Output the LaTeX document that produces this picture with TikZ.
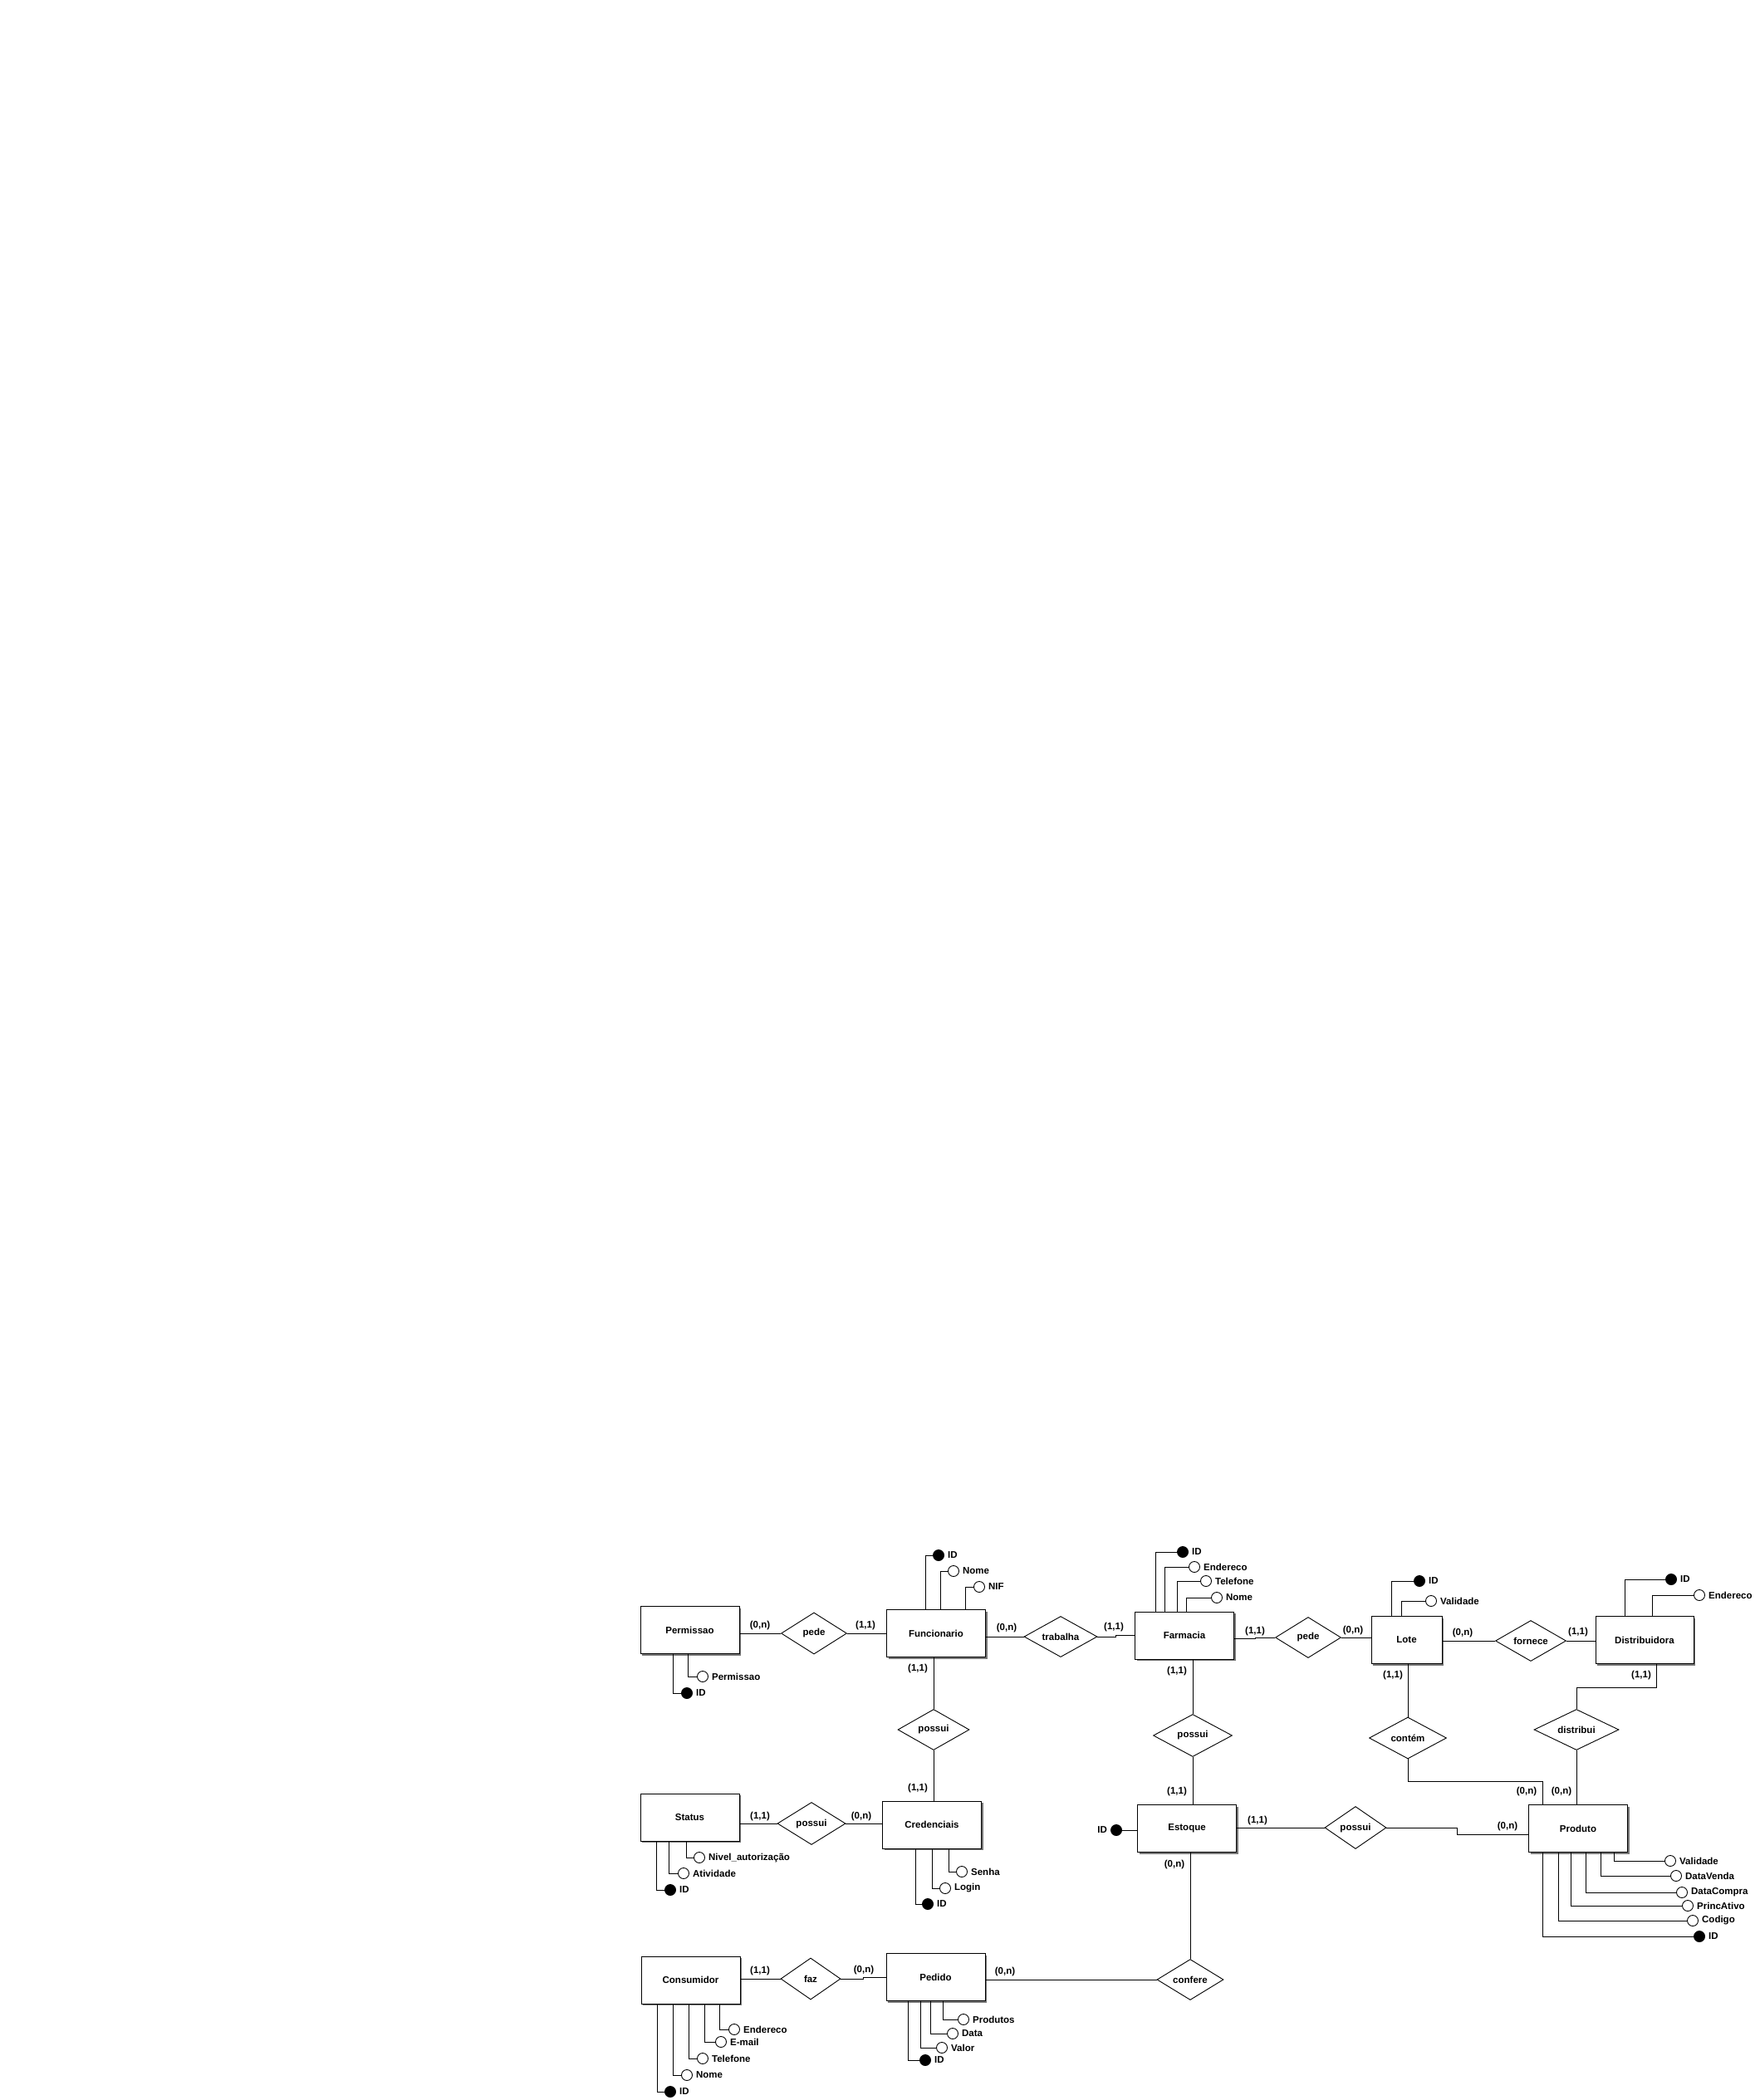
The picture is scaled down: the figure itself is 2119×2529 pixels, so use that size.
\documentclass[tikz,border=0pt]{standalone}
\usepackage{fontspec}
\setmainfont{Liberation Sans}
\usetikzlibrary{shapes.geometric,shadows,positioning,calc}
\definecolor{shadowgray}{RGB}{120,120,120}

\begin{document}
\begin{tikzpicture}[
    x=1pt, y=-1pt,
    every node/.style={font=\bfseries\fontsize{11.5}{13}\selectfont},
    entity/.style={rectangle, draw, fill=white, line width=1pt, minimum width=119pt, minimum height=57pt, inner sep=0pt, drop shadow={shadow xshift=2pt, shadow yshift=-2pt, fill=shadowgray, opacity=1}},
    relation/.style={diamond, draw, fill=white, line width=0.9pt, aspect=2, inner sep=0pt},
    attr/.style={circle, draw, fill=white, line width=0.9pt, minimum size=13pt, inner sep=0pt},
    keyattr/.style={attr, fill=black},
    attrlabel/.style={inner sep=0pt},
    card/.style={inner sep=0pt},
    conn/.style={-, line width=0.9pt}
]
    \useasboundingbox (0,0) rectangle (2119,2529);

    % Entities
    \node[entity] (perm) at (830.5,1963) {Permissao};
    \node[entity] (func) at (1127,1967) {Funcionario};
    \node[entity] (farm) at (1426,1969.5) {Farmacia};
    \node[entity, minimum width=85pt] (lote) at (1693.5,1975) {Lote};
    \node[entity, minimum width=118pt] (dist) at (1980,1975) {Distribuidora};
    \node[entity] (status) at (830.5,2188.5) {Status};
    \node[entity] (cred) at (1122,2197.5) {Credenciais};
    \node[entity] (est) at (1429,2202) {Estoque};
    \node[entity] (prod) at (1900,2202) {Produto};
    \node[entity] (cons) at (831.5,2384.5) {Consumidor};
    \node[entity] (ped) at (1126.5,2381) {Pedido};

    % Relationships
    \node[relation, minimum width=79pt, minimum height=50pt] (pede1) at (980,1967) {pede};
    \node[relation, minimum width=88pt, minimum height=49pt] (trab) at (1277,1971) {trabalha};
    \node[relation, minimum width=79pt, minimum height=49pt] (pede2) at (1575,1972) {pede};
    \node[relation, minimum width=85pt, minimum height=49pt] (forn) at (1843,1976) {fornece};
    \node[relation, minimum width=86pt, minimum height=49pt] (poss1) at (1124,2083) {possui};
    \node[relation, minimum width=95pt, minimum height=51pt] (poss2) at (1436,2090) {possui};
    \node[relation, minimum width=93pt, minimum height=50pt] (cont) at (1695,2093) {contém};
    \node[relation, minimum width=102pt, minimum height=49pt] (distr) at (1898,2083) {distribui};
    \node[relation, minimum width=82pt, minimum height=51pt] (poss3) at (977,2196) {possui};
    \node[relation, minimum width=74pt, minimum height=51pt] (poss4) at (1632,2201) {possui};
    \node[relation, minimum width=72pt, minimum height=50pt] (faz) at (976,2383) {faz};
    \node[relation, minimum width=80pt, minimum height=49pt] (conf) at (1433,2384) {confere};

    % Connections
    \draw[conn] (pede1.west -| perm.east) -- (pede1.west);
    \draw[conn] (pede1.east) -- (pede1.east -| func.west);
    \draw[conn] (trab.west -| func.east) -- (trab.west);
    \draw[conn] (trab.east) -- ++(22,0) |- (farm.west);
    \draw[conn] ([yshift=-4pt]farm.east) -- ++(25,0) |- (pede2.west);
    \draw[conn] (pede2.east) -- (pede2.east -| lote.west);
    \draw[conn] (forn.west -| lote.east) -- (forn.west);
    \draw[conn] (forn.east) -- (forn.east -| dist.west);
    \draw[conn] (poss1.north |- func.south) -- (poss1.north);
    \draw[conn] (poss1.south) -- (poss1.south |- cred.north);
    \draw[conn] (poss2.north |- farm.south) -- (poss2.north);
    \draw[conn] (poss2.south) -- (poss2.south |- est.north);
    \draw[conn] (cont.north |- lote.south) -- (cont.north);
    \draw[conn] (cont.south) -- ++(0,27) -| ([xshift=-43pt]prod.north);
    \draw[conn] ([xshift=14pt]dist.south) -- ++(0,28) -| (distr.north);
    \draw[conn] (distr.south) -- (distr.south |- prod.north);
    \draw[conn] (poss3.west -| status.east) -- (poss3.west);
    \draw[conn] (poss3.east) -- (poss3.east -| cred.west);
    \draw[conn] (poss4.west -| est.east) -- (poss4.west);
    \draw[conn] (poss4.east) -- ++(85,0) |- ([yshift=-7pt]prod.west);
    \draw[conn] (conf.north |- est.south) -- (conf.north);
    \draw[conn] (faz.west -| cons.east) -- (faz.west);
    \draw[conn] (faz.east) -- ++(27,0) |- (ped.west);
    \draw[conn] (conf.west -| ped.east) -- (conf.west);

    % Attributes
    \foreach \nm/\ent/\anc/\dx/\cx/\cy/\txt/\kind in {
        fid/func/north west/47/1130/1873/ID/keyattr,
        fnome/func/north west/65/1148/1892/Nome/attr,
        fnif/func/north west/95/1179/1911/NIF/attr,
        pperm/perm/south west/58/846/2019/Permissao/attr,
        pid/perm/south west/40/827/2039/ID/keyattr,
        aid/farm/north west/25/1424/1869/ID/keyattr,
        aend/farm/north west/36/1438/1887/Endereco/attr,
        atel/farm/north west/51/1452/1904/Telefone/attr,
        anome/farm/north west/62/1465/1924/Nome/attr,
        lid/lote/north west/25/1709/1904/ID/keyattr,
        lval/lote/north west/37/1723/1928/Validade/attr,
        did/dist/north west/36/2012/1902/ID/keyattr,
        dend/dist/north west/69/2046/1921/Endereco/attr,
        sniv/status/south west/56/842/2237/{Nivel\_autorização}/attr,
        sativ/status/south west/35/823/2256/Atividade/attr,
        sid/status/south west/20/807/2276/ID/keyattr,
        csen/cred/south west/80/1158/2254/Senha/attr,
        clog/cred/south west/60/1138/2274/Login/attr,
        cid/cred/south west/40/1117/2293/ID/keyattr,
        rval/prod/south west/103/2011/2241/Validade/attr,
        rdv/prod/south west/87/2018/2259/DataVenda/attr,
        rdc/prod/south west/69/2025/2279/DataCompra/attr,
        rpa/prod/south west/51/2032/2295/PrincAtivo/attr,
        rcod/prod/south west/36/2038/2313/Codigo/attr,
        rid/prod/south west/17/2046/2332/ID/keyattr,
        kend/cons/south west/95/884/2444/Endereco/attr,
        kmail/cons/south west/77/868/2459/E-mail/attr,
        ktel/cons/south west/58/846/2479/Telefone/attr,
        knome/cons/south west/39/827/2499/Nome/attr,
        kid/cons/south west/20/807/2519/ID/keyattr,
        eprod/ped/south west/69/1160/2432/Produtos/attr,
        edata/ped/south west/54/1147/2449/Data/attr,
        eval/ped/south west/42/1134/2466/Valor/attr,
        eid/ped/south west/27/1114/2481/ID/keyattr}
    {
        \node[\kind] (\nm) at (\cx,\cy) {};
        \node[attrlabel, right=4pt of \nm] (\nm-t) {\txt};
        \draw[conn] (\nm.west) -| ([xshift=\dx pt]\ent.\anc);
    }

    % Estoque key
    \node[keyattr] (estid) at (1344,2204) {};
    \node[attrlabel, left=4pt of estid] (estid-t) {ID};
    \draw[conn] (estid.east) -- (estid.east -| est.west);

    % Cardinalities
    \foreach \nm/\cx/\cy/\txt in {
        k1/915/1958/{(0,n)}, k2/1042/1958/{(1,1)}, k3/1212/1961/{(0,n)},
        k4/1341/1960/{(1,1)}, k5/1511/1965/{(1,1)}, k6/1629/1964/{(0,n)},
        k7/1761/1967/{(0,n)}, k8/1900/1966/{(1,1)}, k9/1105/2010/{(1,1)},
        k10/1105/2153/{(1,1)}, k11/1417/2013/{(1,1)}, k12/1417/2157/{(1,1)},
        k13/1677/2018/{(1,1)}, k14/1976/2018/{(1,1)}, k15/1838/2157/{(0,n)},
        k16/1880/2157/{(0,n)}, k17/915/2187/{(1,1)}, k18/1037/2187/{(0,n)},
        k19/1514/2192/{(1,1)}, k20/1815/2199/{(0,n)}, k21/1414/2245/{(0,n)},
        k22/915/2373/{(1,1)}, k23/1040/2372/{(0,n)}, k24/1210/2374/{(0,n)}}
        \node[card] (\nm) at (\cx,\cy) {\txt};

\end{tikzpicture}
\end{document}
